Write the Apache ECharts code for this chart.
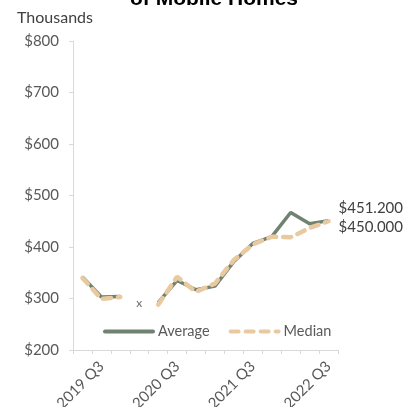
<!DOCTYPE html>
<html>
<head>
<meta charset="utf-8">
<script src="https://cdn.jsdelivr.net/npm/echarts@6/dist/echarts.min.js"></script>
<style>
  html, body { margin: 0; padding: 0; background: #ffffff; }
  #chart { width: 412px; height: 407px; }
</style>
</head>
<body>
<div id="chart"></div>
<script>
// Quarterly prices of mobile homes, in thousands of dollars
const quarters = [
  '2019 Q2', '2019 Q3', '2019 Q4', '2020 Q1', '2020 Q2', '2020 Q3', '2020 Q4',
  '2021 Q1', '2021 Q2', '2021 Q3', '2021 Q4', '2022 Q1', '2022 Q2', '2022 Q3'
];
const averagePrice = [342, 303, 304, null, 292, 335, 317, 324, 372, 407, 420, 467, 445, 451.2];
const medianPrice  = [340, 299, 303, null, 288, 342, 313, 329, 375, 405, 420, 419, 437, 450.0];
// quarter without data, flagged with an "x"
const missingFlag  = [null, null, null, 291, null, null, null, null, null, null, null, null, null, null];
const yTicks = { min: 200, max: 800, step: 100 };

const textFont = 'Lato';
const chart = echarts.init(document.getElementById('chart'));

const money3 = v => '$' + Number(v).toFixed(3);

chart.setOption({
  animation: false,
  backgroundColor: '#ffffff',
  title: {
    text: 'of Mobile Homes',
    left: 125,
    top: -16,
    textStyle: { fontFamily: 'Liberation Sans', fontWeight: 'bold', fontSize: 21, color: '#000000' }
  },
  grid: { left: 73, right: 74, top: 41, bottom: 57, outerBoundsMode: 'none', containLabel: false },
  legend: {
    left: 98,
    top: 319,
    itemWidth: 48,
    itemHeight: 12,
    itemGap: 19,
    itemStyle: { opacity: 0 },
    lineStyle: { width: 4, cap: 'round' },
    data: ['Average', 'Median'],
    textStyle: { fontFamily: textFont, fontSize: 14.5, color: '#595959' }
  },
  xAxis: {
    type: 'category',
    data: quarters,
    boundaryGap: true,
    axisLine: { lineStyle: { color: '#d9d9d9', width: 1 } },
    axisTick: { show: true, interval: 0, length: 4, lineStyle: { color: '#d9d9d9' } },
    axisLabel: {
      interval: (i) => i % 4 === 1,
      rotate: 45,
      margin: 14,
      fontFamily: textFont,
      fontSize: 15,
      color: '#595959'
    },
    splitLine: { show: false }
  },
  yAxis: {
    type: 'value',
    min: yTicks.min,
    max: yTicks.max,
    interval: yTicks.step,
    name: 'Thousands',
    nameLocation: 'end',
    nameGap: 15,
    nameTextStyle: { fontFamily: textFont, fontSize: 16, color: '#404040', align: 'center', padding: [0, 36, 0, 0] },
    axisLine: { show: true, lineStyle: { color: '#d9d9d9', width: 1 } },
    axisTick: { show: true, length: 4, lineStyle: { color: '#d9d9d9' } },
    axisLabel: {
      formatter: v => '$' + v,
      margin: 14,
      fontFamily: textFont,
      fontSize: 15,
      color: '#595959'
    },
    splitLine: { show: false }
  },
  series: [
    {
      name: 'Average',
      type: 'line',
      data: averagePrice,
      connectNulls: false,
      symbol: 'none',
      z: 2,
      lineStyle: { color: '#708272', width: 3.5 },
      itemStyle: { color: '#708272' },
      endLabel: {
        show: true,
        formatter: p => money3(p.value),
        distance: 10,
        offset: [0, -12],
        fontFamily: textFont,
        fontSize: 15,
        color: '#404040'
      }
    },
    {
      name: 'Median',
      type: 'line',
      data: medianPrice,
      connectNulls: false,
      symbol: 'none',
      z: 3,
      lineStyle: { color: '#e8c9a0', width: 4.5, type: [8, 7], cap: 'round' },
      itemStyle: { color: '#e8c9a0' },
      endLabel: {
        show: true,
        formatter: p => money3(p.value),
        distance: 10,
        offset: [0, 6],
        fontFamily: textFont,
        fontSize: 15,
        color: '#404040'
      }
    },
    {
      name: 'missing',
      type: 'scatter',
      data: missingFlag,
      symbolSize: 0,
      silent: true,
      label: {
        show: true,
        position: 'inside',
        formatter: 'x',
        fontFamily: textFont,
        fontSize: 12,
        color: '#404040'
      }
    }
  ]
});
</script>
</body>
</html>
